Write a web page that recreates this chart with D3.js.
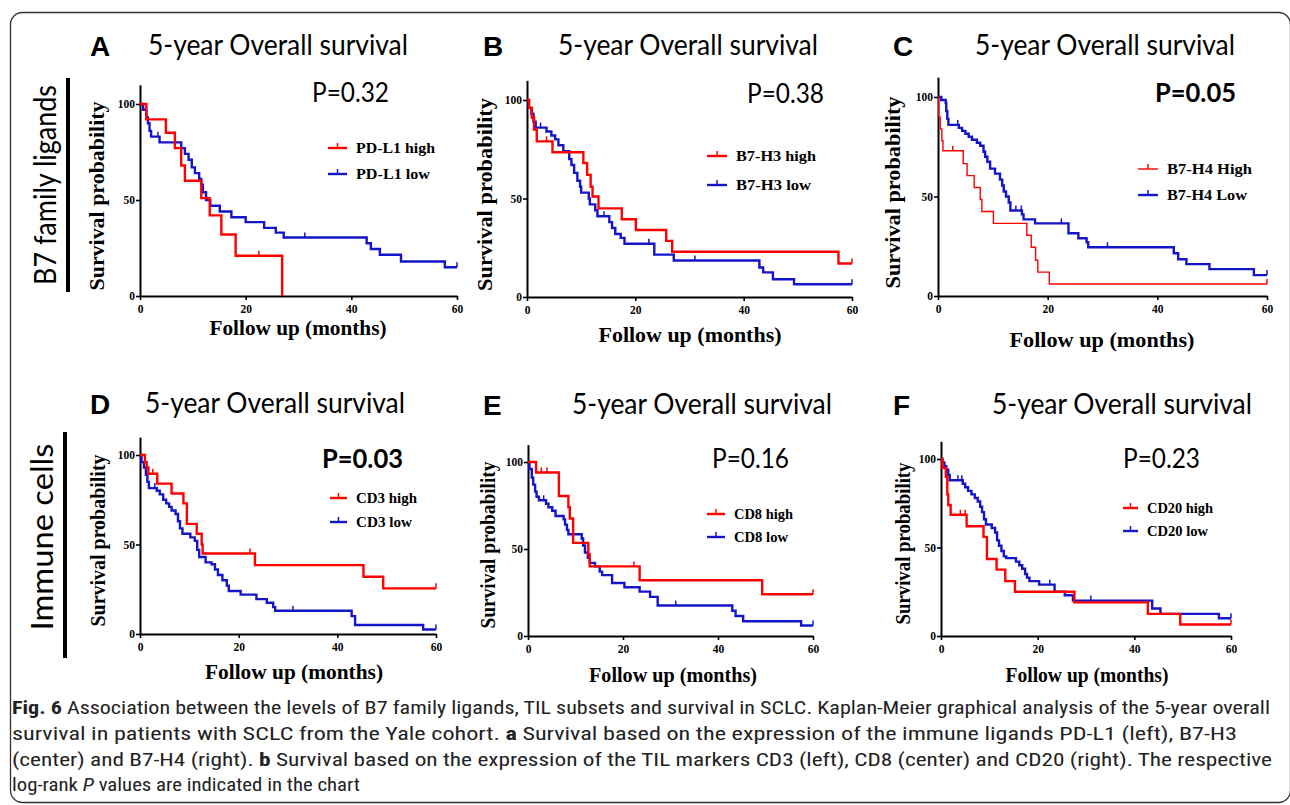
<!DOCTYPE html>
<html>
<head>
<meta charset="utf-8">
<script src="https://cdn.jsdelivr.net/npm/d3@7"></script>
<style>
body { margin: 0; background: #fff; }
svg { display: block; }
.tick text { font-family: "Liberation Serif", serif; font-weight: bold; font-size: 11.5px; fill: #000; }
</style>
</head>
<body>
<svg id="fig" width="1290" height="805"></svg>
<script>
// ticks shared by all six plots
var xTicks = [0, 20, 40, 60];
var yTicks = [0, 50, 100];

// Kaplan-Meier steps: [month, survival %] after each drop
var pdl1High = [[0,100],[1.2,92],[4.9,85],[6.6,77],[7.8,68],[8.5,60],[11.6,51],[13.2,42],[15.4,32],[18.1,21],[26.9,0]];
var pdl1Low = [[0,100],[0.6,97],[1.2,93],[1.5,90],[1.8,86],[2.1,83],[3.7,80],[7.8,77],[8.5,74],[9.2,71],[9.8,67],[10.4,64],[11.2,61],[11.6,58],[11.9,54],[12.5,50],[13.3,47],[15.1,44],[17.3,41],[20.0,38.5],[23.5,35.5],[25.7,33],[27.2,30.5],[42.9,27.5],[43.7,24.5],[45.4,21.5],[49.4,18],[57.7,15],[60,15]];
var b7h3High = [[0,100],[0.4,96],[0.9,91],[1.3,85],[1.8,79],[4.7,73.5],[10.4,68],[11.1,62],[11.75,56],[12.1,51],[13.2,45],[17.5,39.5],[20.1,34],[25.7,28.5],[26.8,23],[57.5,17],[60,17]];
var b7h3Low = [[0,100],[0.3,96],[0.8,93],[1.2,89],[1.6,86],[3.6,84],[4.5,82],[5.2,80],[5.8,77],[6.7,74],[7.8,70],[8.2,67],[8.7,63],[9.3,59],[9.8,56],[10.0,53],[11.4,50],[11.6,47],[12.6,44],[13.0,41],[15.2,38],[15.7,35],[16.3,32],[17.3,30],[18.0,27],[23.5,21.5],[27.1,18.5],[42.9,15],[43.6,12.5],[45.4,9],[49.3,6.5],[60,6.5]];
var b7h4High = [[0,100],[0.1,90],[0.4,84],[0.7,78],[0.9,73],[4.6,66.5],[5.3,60.5],[6.6,54.5],[7.7,48.5],[8.0,42.5],[10.1,36.5],[16.2,30.5],[17.0,24.5],[17.8,18],[18.2,12],[20.3,6],[60,6]];
var b7h4Low = [[0,100],[0.6,98.5],[1.4,97],[1.5,93],[1.7,89],[1.9,86],[3.8,84.5],[4.4,83],[5.0,81.5],[5.6,80],[6.2,78.5],[7.1,77],[7.7,75.5],[8.3,72.5],[8.6,70],[9.0,67.5],[9.5,64],[10.4,61.5],[11.3,58.5],[11.7,55.5],[12.0,52.5],[12.4,50],[12.9,47],[13.2,43],[15.3,41],[15.6,38.5],[17.7,36.5],[23.8,31.5],[25.6,29],[27.1,27],[27.4,24.5],[43.0,21.5],[43.8,18.5],[45.3,16],[49.5,13.5],[57.6,10.5],[60,10.5]];
var cd3High = [[0,100],[1.0,96],[1.35,93],[1.7,89.5],[3.5,84],[6.4,78.5],[8.8,73],[9.5,61.5],[11.5,56],[12.5,50],[12.7,45],[23.3,38.5],[45.3,32],[49.3,25.5],[60,25.5]];
var cd3Low = [[0,100],[0.3,96],[0.8,93],[1.2,89],[1.5,85],[1.8,81.5],[3.4,80],[4.0,78],[4.7,75],[5.3,73],[5.9,71],[6.4,69],[7.2,67],[7.7,63],[8.1,59],[8.6,56],[10.2,54],[11.1,52],[11.6,47],[12.0,43],[13.3,40],[14.5,39],[15.2,36],[15.8,33],[16.7,30],[17.6,27],[18.0,24],[20.4,22],[23.6,19.5],[25.7,17.5],[27.0,15],[27.4,13],[42.9,10],[43.6,5],[57.4,2.5],[60,2.5]];
var cd8High = [[0,100],[1.7,94],[6.5,80.5],[8.5,74],[8.8,67.5],[9.5,53.5],[12.7,47],[13.0,40],[23.5,32],[49.3,24],[60,24]];
var cd8Low = [[0,100],[0.3,96],[0.8,91],[1.1,87],[1.5,83],[1.8,80],[2.3,78],[3.8,76],[4.3,74],[5.1,72],[5.8,69],[7.5,67],[7.8,64],[8.2,61],[8.5,58.5],[11.3,56],[11.6,52],[12.0,48],[12.6,45],[13.0,42],[14.1,40],[15.1,37],[15.6,35],[17.7,30.5],[20.3,28],[23.5,25.5],[25.7,22.5],[27.3,17.5],[43.0,14.5],[43.7,11.5],[45.3,8.5],[57.5,6],[60,6]];
var cd20High = [[0,100],[0.3,95],[1.0,90],[1.3,80],[1.5,74],[2.0,68.5],[5.3,62],[8.8,56],[9.5,43.5],[11.5,37.5],[13.3,31],[15.3,25],[27.6,19],[42.8,12.5],[49.5,6.5],[60,6.5]];
var cd20Low = [[0,100],[0.3,98],[0.7,96],[1.1,94],[1.5,91],[1.8,88],[4.5,86],[5.0,84],[5.6,82],[6.3,80],[7.0,78],[7.6,76],[8.1,73],[8.5,70],[8.9,66],[9.3,63],[10.5,61],[11.2,58.5],[11.6,54],[12.0,51],[12.5,48],[13.0,45],[13.5,44],[15.5,42],[16.2,40],[16.8,38],[17.4,35],[17.8,33],[18.3,31],[20.3,29],[23.5,25],[25.6,23],[27.3,20],[43.7,15.5],[45.4,12.5],[57.5,10],[60,10]];

// censored observations (months)
var pdl1HighCens = [22.5];
var pdl1LowCens = [3.4, 31.2, 60];
var b7h3HighCens = [3.6, 60];
var b7h3LowCens = [2.5, 14.2, 22.5, 31, 60];
var b7h4HighCens = [2.7, 60];
var b7h4LowCens = [3.6, 14.2, 15.2, 22.5, 30.9, 60];
var cd3HighCens = [2.6, 22.3, 60];
var cd3LowCens = [3.0, 31, 60];
var cd8HighCens = [2.8, 4.0, 22.3, 60];
var cd8LowCens = [3.3, 31.1, 60];
var cd20HighCens = [4.0, 5.0, 60];
var cd20LowCens = [3.5, 4.3, 22.5, 31, 60];

var panelLetters = ["A", "B", "C", "D", "E", "F"];
var highLabels = ["PD-L1 high", "B7-H3 high", "B7-H4 High", "CD3 high", "CD8 high", "CD20 high"];
var lowLabels = ["PD-L1 low", "B7-H3 low", "B7-H4 Low", "CD3 low", "CD8 low", "CD20 low"];
var pValues = ["P=0.32", "P=0.38", "P=0.05", "P=0.03", "P=0.16", "P=0.23"];
var pBold = [false, false, true, true, false, false];
var highSeries = [pdl1High, b7h3High, b7h4High, cd3High, cd8High, cd20High];
var lowSeries = [pdl1Low, b7h3Low, b7h4Low, cd3Low, cd8Low, cd20Low];
var highCens = [pdl1HighCens, b7h3HighCens, b7h4HighCens, cd3HighCens, cd8HighCens, cd20HighCens];
var lowCens = [pdl1LowCens, b7h3LowCens, b7h4LowCens, cd3LowCens, cd8LowCens, cd20LowCens];

// where each plot sits on the page
var layout = [
    {x0: 140, x1: 457, yTop: 104, yBot: 296, letterX: 90, titleX: 148, headY: 55, pX: 312, pY: 102, legX: 328, legW: 19, legY: [148, 174], legFs: 15.5, legTW: [79, 74], yTitleX: 97, yTitleW: 189, xTitleX: 298, xTitleY: 335, xTitleW: 177, redW: 2.4},
    {x0: 527, x1: 852, yTop: 100, yBot: 297, letterX: 483, titleX: 558, headY: 55, pX: 747, pY: 103, legX: 707, legW: 20, legY: [156, 185], legFs: 15.5, legTW: [80, 75], yTitleX: 485, yTitleW: 193, xTitleX: 690, xTitleY: 342, xTitleW: 183, redW: 2.4},
    {x0: 938, x1: 1267, yTop: 97, yBot: 296, letterX: 893, titleX: 975, headY: 55, pX: 1155, pY: 102, legX: 1138, legW: 20, legY: [169, 195], legFs: 15.5, legTW: [85, 80], yTitleX: 893, yTitleW: 192, xTitleX: 1102, xTitleY: 347, xTitleW: 185, redW: 1.4},
    {x0: 140, x1: 436, yTop: 455, yBot: 634, letterX: 90, titleX: 145, headY: 413, pX: 322, pY: 468, legX: 330, legW: 17, legY: [498, 522], legFs: 14.5, legTW: [61, 56], yTitleX: 98, yTitleW: 172, xTitleX: 294, xTitleY: 679, xTitleW: 178, redW: 2.4},
    {x0: 528, x1: 813, yTop: 462, yBot: 636, letterX: 483, titleX: 572, headY: 414, pX: 712, pY: 468, legX: 707, legW: 18, legY: [514, 537], legFs: 14.5, legTW: [59, 54], yTitleX: 488, yTitleW: 167, xTitleX: 673, xTitleY: 682, xTitleW: 168, redW: 2.4},
    {x0: 941, x1: 1231, yTop: 459, yBot: 636, letterX: 893, titleX: 992, headY: 414, pX: 1123, pY: 468, legX: 1123, legW: 15, legY: [508, 531], legFs: 14.5, legTW: [66, 61], yTitleX: 903, yTitleW: 162, xTitleX: 1087, xTitleY: 682, xTitleW: 163, redW: 2.4}
];

var RED = "#ff0000";
var BLUE = "#1414c8";
var serif = "'Liberation Serif', 'Times New Roman', serif";
var calib = "Lato, 'Open Sans', sans-serif";

var svg = d3.select("#fig");

// outer frame
svg.append("rect")
    .attr("x", 10.5).attr("y", 12.5)
    .attr("width", 1280).attr("height", 790)
    .attr("rx", 12)
    .attr("fill", "none").attr("stroke", "#333").attr("stroke-width", 1.3);

// row labels with their bars
svg.append("text")
    .attr("transform", "translate(45,185) rotate(-90)")
    .attr("text-anchor", "middle").attr("dy", "0.35em")
    .attr("font-family", calib).attr("font-size", 30)
    .attr("textLength", 200).attr("lengthAdjust", "spacingAndGlyphs")
    .text("B7 family ligands");
svg.append("rect").attr("x", 66).attr("y", 78).attr("width", 4).attr("height", 214).attr("fill", "#000");

svg.append("text")
    .attr("transform", "translate(42,537) rotate(-90)")
    .attr("text-anchor", "middle").attr("dy", "0.35em")
    .attr("font-family", calib).attr("font-size", 30)
    .attr("textLength", 187).attr("lengthAdjust", "spacingAndGlyphs")
    .text("Immune cells");
svg.append("rect").attr("x", 63).attr("y", 432).attr("width", 4).attr("height", 226).attr("fill", "#000");

function survAt(steps, t) {
    var s = steps[0][1];
    steps.forEach(function(d) { if (d[0] <= t) s = d[1]; });
    return s;
}

function drawPanel(i) {
    var p = layout[i];
    var x = d3.scaleLinear().domain([0, 60]).range([p.x0, p.x1]);
    var y = d3.scaleLinear().domain([0, 100]).range([p.yBot, p.yTop]);
    var yAxisScale = d3.scaleLinear().domain([0, 110]).range([p.yBot, y(110)]);
    var g = svg.append("g");

    // heading
    g.append("text")
        .attr("x", p.letterX).attr("y", p.headY + 1)
        .attr("font-family", "'Liberation Sans', Arial, sans-serif").attr("font-weight", "bold")
        .attr("font-size", 28)
        .text(panelLetters[i]);
    g.append("text")
        .attr("x", p.titleX).attr("y", p.headY)
        .attr("font-family", calib).attr("font-size", 28)
        .attr("textLength", 260).attr("lengthAdjust", "spacingAndGlyphs")
        .text("5-year Overall survival");

    // axes
    var ya = g.append("g")
        .attr("transform", "translate(" + p.x0 + ",0)")
        .call(d3.axisLeft(yAxisScale).tickValues(yTicks).tickSize(4).tickSizeOuter(0).tickPadding(1));
    var xa = g.append("g")
        .attr("transform", "translate(0," + p.yBot + ")")
        .call(d3.axisBottom(x).tickValues(xTicks).tickSize(4).tickSizeOuter(0).tickPadding(5));
    [ya, xa].forEach(function(a) {
        a.select(".domain").attr("stroke", "#000").attr("stroke-width", 2);
        a.selectAll(".tick line").attr("stroke", "#000").attr("stroke-width", 1.6);
    });

    // axis titles
    g.append("text")
        .attr("transform", "translate(" + p.yTitleX + "," + ((p.yTop + p.yBot) / 2 - 4) + ") rotate(-90)")
        .attr("text-anchor", "middle").attr("dy", "0.35em")
        .attr("font-family", serif).attr("font-weight", "bold").attr("font-size", 21)
        .attr("textLength", p.yTitleW).attr("lengthAdjust", "spacingAndGlyphs")
        .text("Survival probability");
    g.append("text")
        .attr("x", p.xTitleX).attr("y", p.xTitleY)
        .attr("font-family", serif).attr("font-weight", "bold").attr("font-size", 21)
        .attr("text-anchor", "middle")
        .attr("textLength", p.xTitleW).attr("lengthAdjust", "spacingAndGlyphs")
        .text("Follow up (months)");

    // p value
    g.append("text")
        .attr("x", p.pX).attr("y", p.pY)
        .attr("font-family", calib).attr("font-size", 26)
        .attr("font-weight", pBold[i] ? "bold" : "normal")
        .attr("textLength", pBold[i] ? 81 : 77).attr("lengthAdjust", "spacingAndGlyphs")
        .text(pValues[i]);

    // curves
    var line = d3.line()
        .x(function(d) { return x(d[0]); })
        .y(function(d) { return y(d[1]); })
        .curve(d3.curveStepAfter);

    var groups = [
        {steps: lowSeries[i], cens: lowCens[i], color: BLUE, w: 2.4},
        {steps: highSeries[i], cens: highCens[i], color: RED, w: p.redW}
    ];
    groups.forEach(function(s) {
        g.append("path")
            .datum(s.steps)
            .attr("fill", "none")
            .attr("stroke", s.color)
            .attr("stroke-width", s.w)
            .attr("d", line);
        g.selectAll(null).data(s.cens).enter().append("line")
            .attr("x1", function(t) { return x(t); })
            .attr("x2", function(t) { return x(t); })
            .attr("y1", function(t) { return y(survAt(s.steps, t)); })
            .attr("y2", function(t) { return y(survAt(s.steps, t)) - 5; })
            .attr("stroke", s.color).attr("stroke-width", 1.5);
    });

    // legend
    var legItems = [
        {label: highLabels[i], color: RED, w: p.redW, tw: p.legTW[0], yy: p.legY[0]},
        {label: lowLabels[i], color: BLUE, w: 2.4, tw: p.legTW[1], yy: p.legY[1]}
    ];
    legItems.forEach(function(l) {
        g.append("line")
            .attr("x1", p.legX).attr("x2", p.legX + p.legW)
            .attr("y1", l.yy).attr("y2", l.yy)
            .attr("stroke", l.color).attr("stroke-width", l.w);
        g.append("line")
            .attr("x1", p.legX + p.legW / 2).attr("x2", p.legX + p.legW / 2)
            .attr("y1", l.yy).attr("y2", l.yy - 5)
            .attr("stroke", l.color).attr("stroke-width", 1.5);
        g.append("text")
            .attr("x", p.legX + p.legW + 9).attr("y", l.yy + 5)
            .attr("font-family", serif).attr("font-weight", "bold").attr("font-size", p.legFs)
            .attr("textLength", l.tw).attr("lengthAdjust", "spacingAndGlyphs")
            .text(l.label);
    });
}

d3.range(6).forEach(drawPanel);

// caption
var captionLines = [
    [["Fig. 6", "b"], [" Association between the levels of B7 family ligands, TIL subsets and survival in SCLC. Kaplan-Meier graphical analysis of the 5-year overall", ""]],
    [["survival in patients with SCLC from the Yale cohort. ", ""], ["a", "b"], [" Survival based on the expression of the immune ligands PD-L1 (left), B7-H3", ""]],
    [["(center) and B7-H4 (right). ", ""], ["b", "b"], [" Survival based on the expression of the TIL markers CD3 (left), CD8 (center) and CD20 (right). The respective", ""]],
    [["log-rank ", ""], ["P", "i"], [" values are indicated in the chart", ""]]
];
var captionWidths = [1258, 1225, 1260, 348];
var captionY = [714, 740, 766, 791];

captionLines.forEach(function(parts, k) {
    var t = svg.append("text")
        .attr("x", 12).attr("y", captionY[k])
        .attr("font-family", "'Liberation Sans Narrow', 'Roboto Condensed', Roboto, sans-serif")
        .attr("font-size", 18).attr("fill", "#222")
        .attr("textLength", captionWidths[k]).attr("lengthAdjust", "spacingAndGlyphs");
    parts.forEach(function(pt) {
        var s = t.append("tspan").text(pt[0]);
        if (pt[1] === "b") s.attr("font-weight", "bold");
        if (pt[1] === "i") s.attr("font-style", "italic");
    });
});
</script>
</body>
</html>
